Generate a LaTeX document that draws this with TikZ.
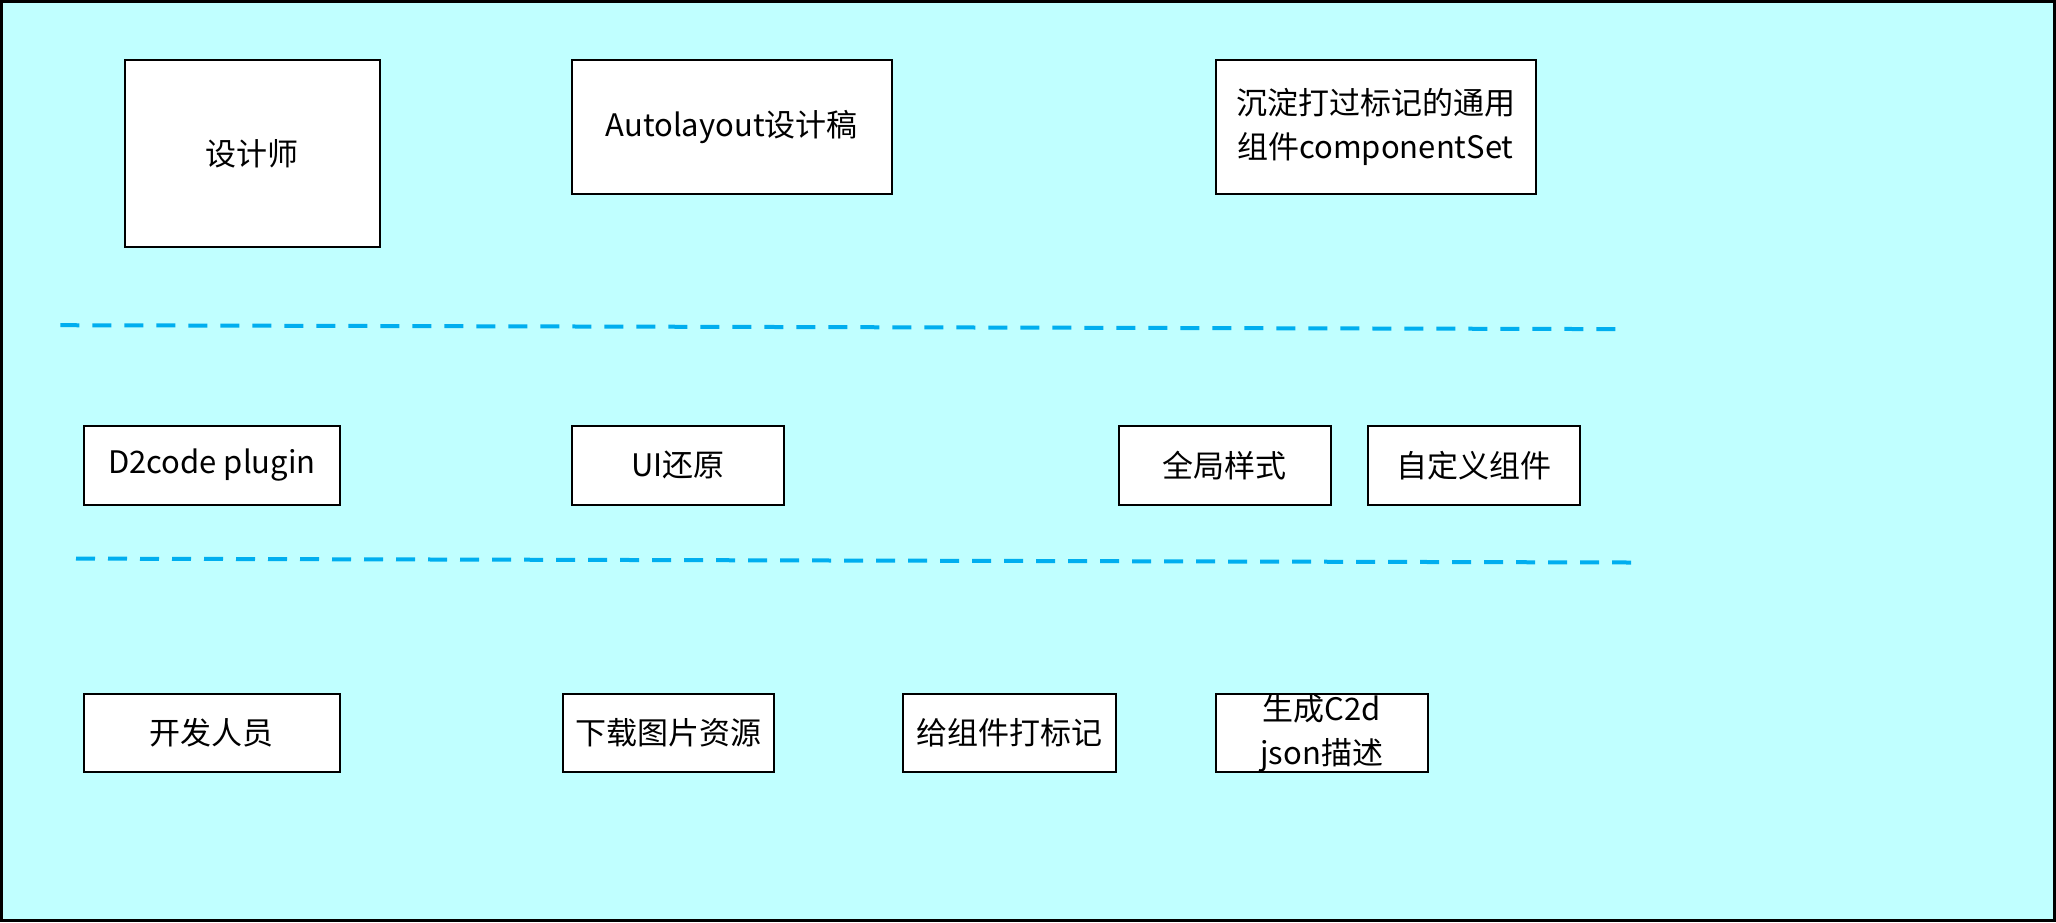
\documentclass[tikz,border=0pt]{standalone}
\usepackage{fontspec}
\setmainfont{Noto Sans CJK SC}
\definecolor{bgcyan}{RGB}{192,255,255}
\definecolor{sepblue}{RGB}{0,174,239}
\tikzset{
  box/.style={draw=black, fill=white, line width=2pt, inner sep=0pt, align=center,
    font=\fontsize{31}{44}\selectfont},
  sepline/.style={draw=sepblue, line width=4pt, dash pattern=on 19pt off 13pt}
}
\newcommand{\dn}[1]{\raisebox{-3pt}{#1}}
\begin{document}
\begin{tikzpicture}[x=1pt,y=-1pt]
\useasboundingbox (0,0) rectangle (2056,922);
\draw[fill=bgcyan, draw=black, line width=2.5pt] (1.5,1.5) rectangle (2054.5,920.5);
% top row
\node[box, minimum width=255.6pt, minimum height=186.2pt] (designer) at (252.4,153.4) {\dn{设计师}};
\node[box, minimum width=320pt, minimum height=133.7pt] (auto) at (731.7,127.2) {\dn{Autolayout设计稿}};
\node[box, minimum width=320pt, minimum height=133.7pt] (comp) at (1375.5,127.2) {\dn{沉淀打过标记的通用}\\\dn{组件componentSet}};
% separator 1
\coordinate (s1a) at (60.3,325.2);
\coordinate (s1b) at (1615.4,329.1);
\draw[sepline] (s1a) -- (s1b);
% middle row
\node[box, minimum width=255.7pt, minimum height=78.8pt] (d2c) at (211.8,465.4) {\dn{D2code plugin}};
\node[box, minimum width=212.3pt, minimum height=78.8pt] (ui) at (677.9,465.4) {\dn{UI还原}};
\node[box, minimum width=212.4pt, minimum height=78.8pt] (global) at (1224.7,465.4) {\dn{全局样式}};
\node[box, minimum width=212.4pt, minimum height=78.8pt] (custom) at (1473.8,465.4) {\dn{自定义组件}};
% separator 2
\coordinate (s2a) at (76,558.6);
\coordinate (s2b) at (1631,562.5);
\draw[sepline] (s2a) -- (s2b);
% bottom row
\node[box, minimum width=255.7pt, minimum height=78.7pt] (dev) at (211.8,733) {\dn{开发人员}};
\node[box, minimum width=211pt, minimum height=78.7pt] (dl) at (668,733) {\dn{下载图片资源}};
\node[box, minimum width=212.4pt, minimum height=78.7pt] (mark) at (1009.6,733) {\dn{给组件打标记}};
\node[box, minimum width=212.4pt, minimum height=78.7pt] (gen) at (1321.7,733) {\dn{生成C2d}\\\dn{json描述}};
\end{tikzpicture}
\end{document}
